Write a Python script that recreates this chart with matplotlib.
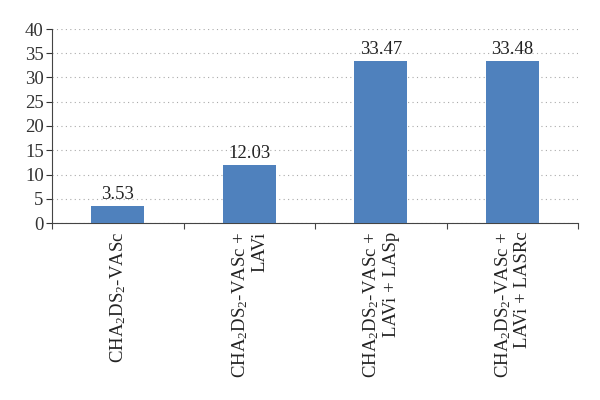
import matplotlib
matplotlib.use("Agg")
import matplotlib.pyplot as plt

categories = [
    "CHA$_2$DS$_2$-VASc",
    "CHA$_2$DS$_2$-VASc +\nLAVi",
    "CHA$_2$DS$_2$-VASc +\nLAVi + LASp",
    "CHA$_2$DS$_2$-VASc +\nLAVi + LASRc",
]
values = [3.53, 12.03, 33.47, 33.48]
yticks = [0, 5, 10, 15, 20, 25, 30, 35, 40]

plt.rcParams['font.family'] = ['Liberation Serif', 'DejaVu Serif']
plt.rcParams['mathtext.fontset'] = 'custom'
plt.rcParams['mathtext.rm'] = 'Liberation Serif'
plt.rcParams['mathtext.it'] = 'Liberation Serif'

fs = 13.5
fig = plt.figure(figsize=(6, 4), dpi=100)
ax = fig.add_axes([52/600, 1 - 223/400, (578 - 52)/600, (223 - 29)/400])

x = range(len(categories))
ax.bar(x, values, width=0.4, color='#4F81BD', zorder=3)
for xi, v in zip(x, values):
    ax.text(xi, v + 0.5, f"{v:.2f}", ha='center', va='bottom', fontsize=fs, color='#222222')

ax.set_xlim(-0.5, len(categories) - 0.5)
ax.set_ylim(0, 40)
ax.set_yticks(yticks)
ax.tick_params(axis='y', labelsize=fs, length=4, direction='out', colors='#333333', pad=2)
ax.yaxis.grid(True, linestyle=(0, (1, 3)), color='#aaaaaa', linewidth=0.8, zorder=0)

ax.set_xticks([i - 0.5 for i in range(len(categories) + 1)])
ax.set_xticklabels([])
ax.tick_params(axis='x', length=4, direction='out', colors='#444444')
for xi, lab in zip(x, categories):
    ax.text(xi, -1.8, lab, rotation=90, ha='center', va='top', multialignment='right',
            fontsize=fs, color='#222222', transform=ax.transData, clip_on=False,
            linespacing=1.1)

for s in ['top', 'right']:
    ax.spines[s].set_visible(False)
ax.spines['left'].set_color('#444444')
ax.spines['bottom'].set_color('#444444')

fig.savefig('out.png', dpi=100)
